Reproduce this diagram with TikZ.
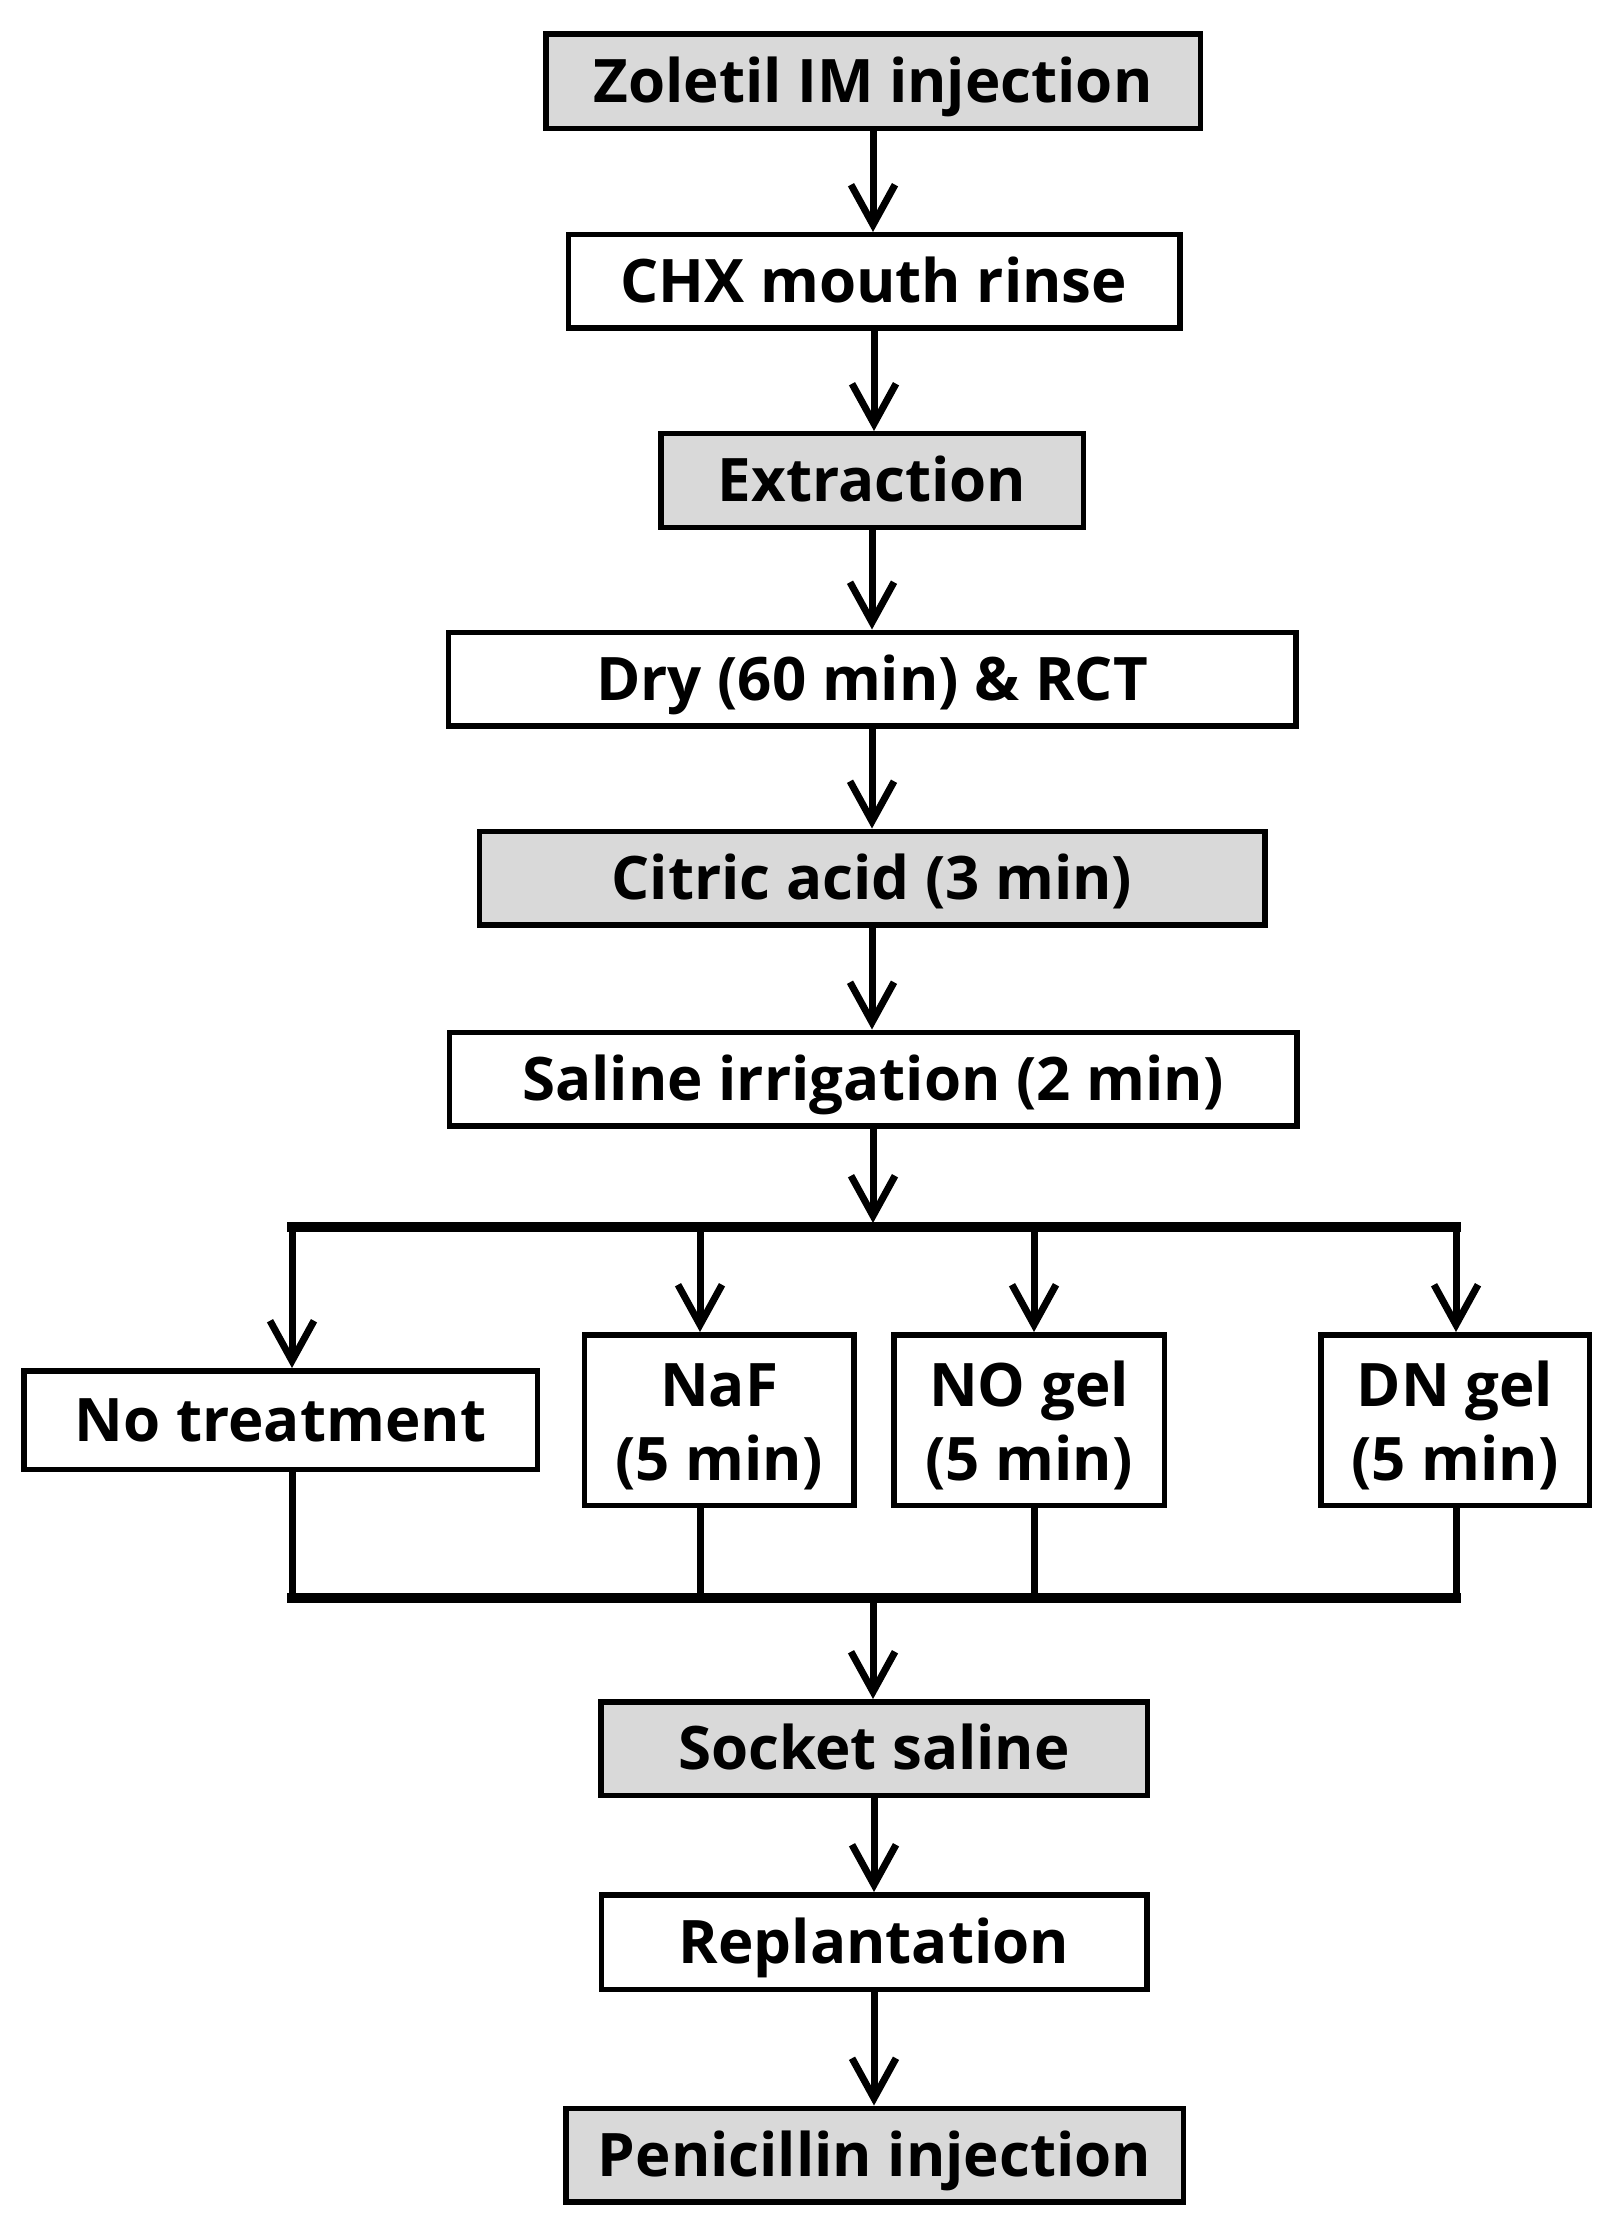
\documentclass[tikz,border=0pt]{standalone}
\usepackage{fontspec}
\setmainfont{Open Sans}
\usetikzlibrary{arrows.meta}
\definecolor{boxgray}{HTML}{D9D9D9}
\begin{document}
\begin{tikzpicture}[x=0.5pt,y=-0.5pt,
  txt/.style={font=\fontsize{30}{36}\selectfont\bfseries},
  stepbox/.style={draw=black, line width=2.75pt, inner sep=0pt, txt, text height=21.4pt, text depth=0pt},
  graybox/.style={stepbox, fill=boxgray},
  whitebox/.style={stepbox, fill=white},
  lbl/.style={txt, inner sep=0pt, anchor=base},
  flow/.style={line width=3.5pt, -{Straight Barb[length=20pt,width=22pt]}},
  bus/.style={line width=5pt, line cap=rect},
  link/.style={line width=3.5pt}
]
\useasboundingbox (0,0) rectangle (1609,2230);

\node[graybox,  minimum width=327.25pt, minimum height=47.25pt] (zol) at (873,81.5) {Zoletil IM injection};
\node[whitebox, minimum width=305.75pt, minimum height=46.75pt] (chx) at (874,281.5) {CHX mouth rinse};
\node[graybox,  minimum width=211.25pt, minimum height=46.75pt] (ext) at (872,480.5) {Extraction};
\node[whitebox, minimum width=423.75pt, minimum height=46.75pt] (dry) at (872,679) {Dry (60 min) \& RCT};
\node[graybox,  minimum width=392.75pt, minimum height=46.75pt] (cit) at (872,878) {Citric acid (3 min)};
\node[whitebox, minimum width=423.75pt, minimum height=46.75pt] (sal) at (873,1079) {Saline irrigation (2 min)};

\node[whitebox, minimum width=256.75pt, minimum height=49.25pt] (not) at (280.5,1420) {No treatment};
\node[whitebox, minimum width=134.75pt, minimum height=85.25pt] (naf) at (719,1420) {};
\node[whitebox, minimum width=135.25pt, minimum height=85.25pt] (nog) at (1029,1420) {};
\node[whitebox, minimum width=134.25pt, minimum height=85.25pt] (dng) at (1455,1420) {};
\node[lbl] (naf1) at (719,1406) {NaF};
\node[lbl] (naf2) at (719,1480) {(5 min)};
\node[lbl] (nog1) at (1029,1406) {NO gel};
\node[lbl] (nog2) at (1029,1480) {(5 min)};
\node[lbl] (dng1) at (1455,1406) {DN gel};
\node[lbl] (dng2) at (1455,1480) {(5 min)};

\node[graybox,  minimum width=273.25pt, minimum height=46.75pt] (soc) at (874,1748.5) {Socket saline};
\node[whitebox, minimum width=272.75pt, minimum height=47.25pt] (rep) at (874,1942) {Replantation};
\node[graybox,  minimum width=308.75pt, minimum height=46.75pt] (pen) at (874.5,2155) {Penicillin injection};

% main chain
\draw[flow] (zol.south) -- (zol.south |- chx.north);
\draw[flow] (chx.south) -- (chx.south |- ext.north);
\draw[flow] (ext.south) -- (ext.south |- dry.north);
\draw[flow] (dry.south) -- (dry.south |- cit.north);
\draw[flow] (cit.south) -- (cit.south |- sal.north);

% branching
\coordinate (b1) at (292,1227);
\coordinate (b2) at (700,1227);
\coordinate (b3) at (1034,1227);
\coordinate (b4) at (1456,1227);
\draw[bus] (b1) -- (b4);
\draw[flow, shorten >=2pt] (sal.south) -- (sal.south |- b1);
\draw[flow] (b1) -- (b1 |- not.north);
\draw[flow] (b2) -- (b2 |- naf.north);
\draw[flow] (b3) -- (b3 |- nog.north);
\draw[flow] (b4) -- (b4 |- dng.north);

% merging
\coordinate (m1) at (292,1598);
\coordinate (m2) at (700,1598);
\coordinate (m3) at (1034,1598);
\coordinate (m4) at (1456,1598);
\coordinate (m0) at (873,1598);
\draw[link] (m1 |- not.south) -- (m1);
\draw[link] (m2 |- naf.south) -- (m2);
\draw[link] (m3 |- nog.south) -- (m3);
\draw[link] (m4 |- dng.south) -- (m4);
\draw[bus] (m1) -- (m4);
\draw[flow] (m0) -- (m0 |- soc.north);

\draw[flow] (soc.south) -- (soc.south |- rep.north);
\draw[flow] (rep.south) -- (rep.south |- pen.north);
\end{tikzpicture}
\end{document}
